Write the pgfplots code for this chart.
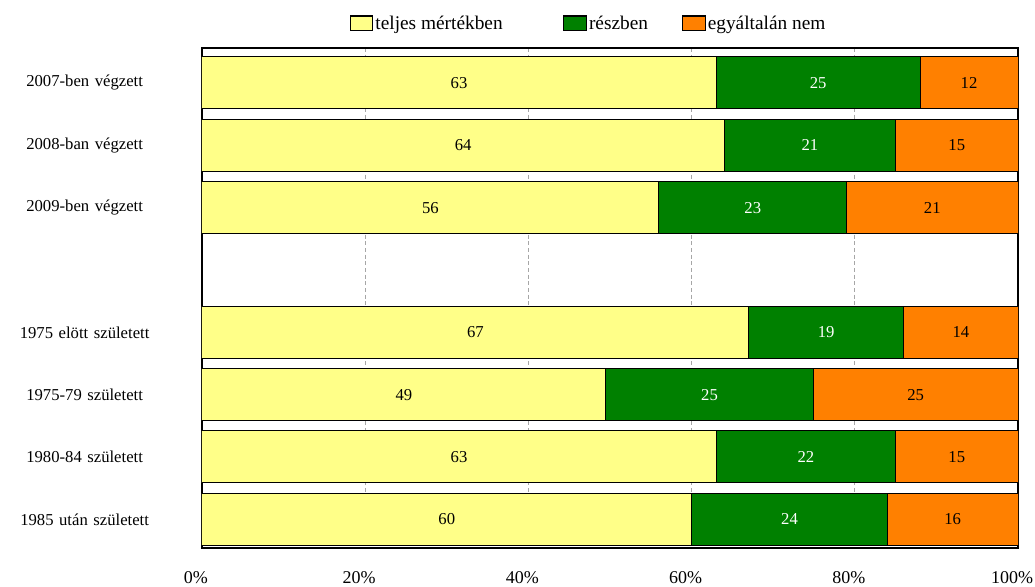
\documentclass[border=0pt]{standalone}
\usepackage{fontspec}
\setmainfont{Liberation Serif}
\usepackage{pgfplots}
\usepackage{pgfplotstable}
\pgfplotsset{compat=1.18}
\definecolor{cyel}{RGB}{255,255,136}
\definecolor{cgrn}{RGB}{0,128,0}
\definecolor{corg}{RGB}{255,128,0}
\pgfplotstableread{
y a b c la lb lc
0 63 25 12 63 25 12
1 64 21 15 64 21 15
2 56 23 21 56 23 21
4 67 19 14 67 19 14
5 49.5 25.4 25.1 49 25 25
6 63 22 15 63 22 15
7 60 24 16 60 24 16
}\data
\begin{document}
\begin{tikzpicture}
\begin{axis}[
  xbar stacked,
  scale only axis, width=612pt, height=375pt,
  xmin=0, xmax=100, ymin=-0.56, ymax=7.46, y dir=reverse,
  bar width=39pt,
  xtick={0,20,...,100},
  xticklabel={\pgfmathprintnumber[assume math mode=true]{\tick}\%},
  xticklabel style={yshift=-14pt, xshift=-4.5pt, font=\fontsize{13.5}{15}\selectfont},
  ytick={0,1,2,4,5,6,7},
  yticklabels={2007-ben végzett,2008-ban végzett,2009-ben végzett,1975 elött született,1975-79 született,1980-84 született,1985 után született},
  yticklabel style={text width=169pt, align=center, font=\fontsize{12.5}{14}\selectfont},
  xmajorgrids, major grid style={gray!70, densely dashed, line width=0.5pt},
  major tick length=0pt,
  axis line style={line width=1.2pt},
  legend columns=3,
  legend style={at={(0.4737,1)}, anchor=south, yshift=9pt, draw=none,
    font=\fontsize{14.5}{16}\selectfont,
    /tikz/every even column/.append style={column sep=0pt},
    nodes={inner sep=1.5pt}},
  legend image code/.code={\draw[#1, line width=0.8pt] (0pt,-5.5pt) rectangle (17pt,5.5pt);},
  nodes near coords, point meta=explicit symbolic,
  every node near coord/.append style={anchor=center, font=\fontsize{12.5}{14}\selectfont},
]
\addplot[fill=cyel, draw=black, line width=0.75pt] table[x=a, y=y, meta=la]{\data};
\addplot[fill=cgrn, draw=black, line width=0.75pt, every node near coord/.append style={text=white}] table[x=b, y=y, meta=lb]{\data};
\addplot[fill=corg, draw=black, line width=0.75pt] table[x=c, y=y, meta=lc]{\data};
\legend{teljes mértékben\rule{44pt}{0pt}, részben\rule{24pt}{0pt}, egyáltalán nem}
\end{axis}
\pgfresetboundingbox
\path[use as bounding box] ([shift={(-151.5pt,-28.5pt)}]current axis.south west) rectangle ([shift={(12.75pt,36pt)}]current axis.north east);
\end{tikzpicture}
\end{document}
